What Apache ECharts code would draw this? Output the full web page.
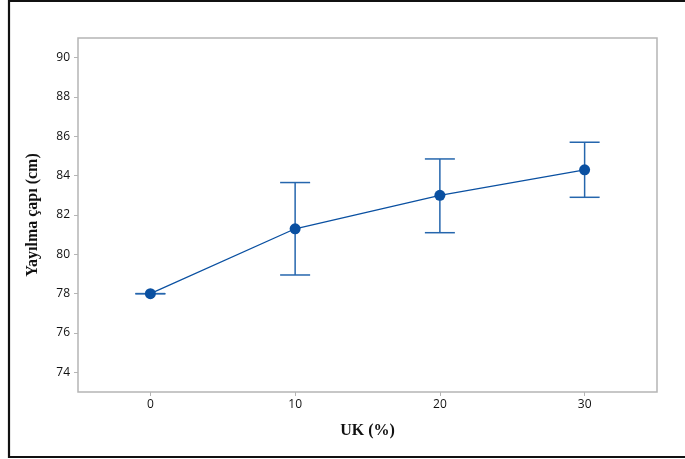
<!DOCTYPE html>
<html>
<head>
<meta charset="utf-8">
<script src="https://cdn.jsdelivr.net/npm/echarts@6/dist/echarts.min.js"></script>
<style>
html,body{margin:0;padding:0;background:#fff;}
#c{width:685px;height:459px;}
</style>
</head>
<body>
<div id="c"></div>
<script>
// Data
const xValues = [0, 10, 20, 30];
const means = [78.0, 81.3, 83.0, 84.3];
const lower = [78.0, 78.95, 81.1, 82.9];
const upper = [78.0, 83.65, 84.85, 85.7];
const xTicks = [0, 10, 20, 30];
const yTicks = [74, 76, 78, 80, 82, 84, 86, 88, 90];

const blue = '#0a50a1';
const barBlue = '#2566ad';

const chart = echarts.init(document.getElementById('c'), null, {renderer: 'canvas'});

const lineData = xValues.map((x, i) => [x, means[i]]);
const errData = xValues.map((x, i) => [x, lower[i], upper[i]]);

const labelFont = {fontFamily: '"Open Sans", "Noto Sans", sans-serif', fontSize: 12, color: '#111'};
const titleFont = {fontFamily: '"Liberation Serif", "Times New Roman", serif', fontSize: 16, fontWeight: 'bold', color: '#111'};

chart.setOption({
  animation: false,
  backgroundColor: '#fff',
  graphic: [{
    type: 'rect',
    shape: {x: 9, y: 1, width: 690, height: 456},
    style: {fill: 'none', stroke: '#111', lineWidth: 2.2},
    silent: true
  }],
  grid: {
    left: 78, top: 38, right: 28, bottom: 67,
    show: true, borderColor: '#b5b5b5', borderWidth: 1.5, backgroundColor: '#fff'
  },
  xAxis: {
    type: 'value', min: -5, max: 35,
    name: 'UK (%)', nameLocation: 'middle', nameGap: 31,
    nameTextStyle: titleFont,
    axisLine: {show: false, onZero: false},
    splitLine: {show: false},
    axisTick: {show: true, length: 4, lineStyle: {color: '#b5b5b5', width: 1}, customValues: xTicks},
    axisLabel: Object.assign({margin: 7, customValues: xTicks}, labelFont)
  },
  yAxis: {
    type: 'value', min: 73, max: 91,
    name: 'Yayılma çapı (cm)', nameLocation: 'middle', nameGap: 37,
    nameTextStyle: titleFont,
    axisLine: {show: false, onZero: false},
    splitLine: {show: false},
    axisTick: {show: true, length: 4, lineStyle: {color: '#b5b5b5', width: 1}, customValues: yTicks},
    axisLabel: Object.assign({margin: 8, customValues: yTicks}, labelFont)
  },
  series: [
    {
      type: 'custom',
      data: errData,
      z: 2,
      renderItem: function (params, api) {
        const x = api.value(0);
        const lo = api.coord([x, api.value(1)]);
        const hi = api.coord([x, api.value(2)]);
        const half = 15;
        const st = {stroke: barBlue, lineWidth: 1.5, fill: 'none'};
        return {
          type: 'group',
          children: [
            {type: 'line', shape: {x1: hi[0], y1: hi[1], x2: lo[0], y2: lo[1]}, style: st},
            {type: 'line', shape: {x1: hi[0] - half, y1: hi[1], x2: hi[0] + half, y2: hi[1]}, style: st},
            {type: 'line', shape: {x1: lo[0] - half, y1: lo[1], x2: lo[0] + half, y2: lo[1]}, style: st}
          ]
        };
      }
    },
    {
      type: 'line',
      data: lineData,
      z: 3,
      symbol: 'circle',
      symbolSize: 11,
      lineStyle: {color: blue, width: 1.3},
      itemStyle: {color: blue}
    }
  ]
});
</script>
</body>
</html>
